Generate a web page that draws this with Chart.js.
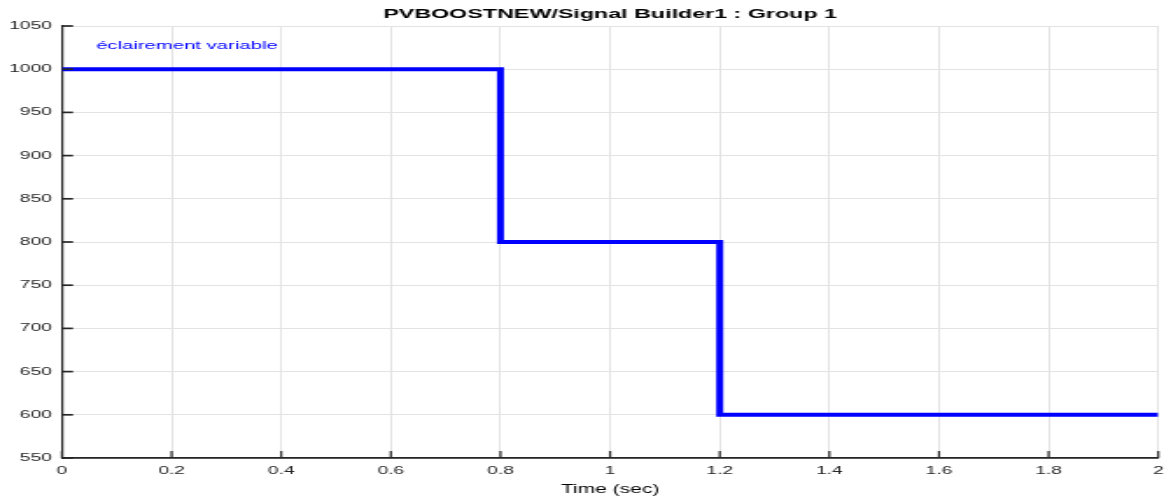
<!DOCTYPE html>
<html>
<head>
<meta charset="utf-8">
<script src="https://cdn.jsdelivr.net/npm/chart.js@4.4.1/dist/chart.umd.min.js"></script>
<style>
  html, body { margin: 0; padding: 0; background: #fff; overflow: hidden; }
  /* the plot is laid out narrow and stretched sideways */
  #wrap { width: 669px; height: 501px; transform: scaleX(1.7504); transform-origin: 0 0; }
</style>
</head>
<body>
<div id="wrap"><canvas id="myChart"></canvas></div>
<script>
const times = [0, 0.8, 1.2, 2];
const levels = [1000, 800, 600, 600];
const xTickLabels = ["0", "0.2", "0.4", "0.6", "0.8", "1", "1.2", "1.4", "1.6", "1.8", "2"];
const yTickLabels = ["550", "600", "650", "700", "750", "800", "850", "900", "950", "1000", "1050"];
const chartTitle = "PVBOOSTNEW/Signal Builder1 : Group 1";
const seriesName = "éclairement variable";

const fontFamily = "'Liberation Sans', Arial, Helvetica, sans-serif";
const axisColor = "#262626";

// short tick marks pointing into the plot, plus title and series label
const extras = {
  id: "extras",
  afterDraw(chart) {
    const c = chart.ctx;
    const area = chart.chartArea;
    const xs = chart.scales.x;
    const ys = chart.scales.y;
    c.save();
    c.strokeStyle = axisColor;
    c.lineWidth = 1.2;
    xs.ticks.forEach((t) => {
      const px = xs.getPixelForValue(t.value);
      c.beginPath();
      c.moveTo(px, area.bottom);
      c.lineTo(px, area.bottom - 7);
      c.stroke();
    });
    c.lineWidth = 1.7;
    ys.ticks.forEach((t) => {
      const py = ys.getPixelForValue(t.value);
      c.beginPath();
      c.moveTo(area.left, py);
      c.lineTo(area.left + 6.3, py);
      c.stroke();
    });

    c.fillStyle = "#000";
    c.font = "bold 13.3px " + fontFamily;
    c.textAlign = "center";
    c.textBaseline = "middle";
    c.fillText(chartTitle, (area.left + area.right) / 2, 14);

    c.fillStyle = "#0000ff";
    c.font = "11.6px " + fontFamily;
    c.textAlign = "left";
    c.fillText(seriesName, 54.9, 45.5);
    c.restore();
  },
};

new Chart(document.getElementById("myChart"), {
  type: "line",
  data: {
    datasets: [
      {
        label: seriesName,
        data: times.map((t, i) => ({ x: t, y: levels[i] })),
        stepped: "before",
        borderColor: "#0000ff",
        borderWidth: 4,
        borderJoinStyle: "miter",
        pointRadius: 0,
        fill: false,
      },
    ],
  },
  options: {
    responsive: true,
    maintainAspectRatio: false,
    animation: false,
    layout: { padding: { top: 26, right: 7.3, bottom: 0, left: 0 } },
    plugins: {
      legend: { display: false },
      tooltip: { enabled: false },
      title: { display: false },
    },
    scales: {
      x: {
        type: "linear",
        min: 0,
        max: 2,
        afterFit: (scale) => {
          scale.height = 43;
          scale.paddingLeft = 0;
          scale.paddingRight = 0;
        },
        grid: { color: "#e3e3e3", lineWidth: 1, drawTicks: false },
        border: { color: axisColor, width: 1.7 },
        ticks: {
          stepSize: 0.2,
          padding: 6,
          color: axisColor,
          font: { family: fontFamily, size: 11 },
          maxRotation: 0,
          callback: (value, index) => xTickLabels[index],
        },
        title: {
          display: true,
          text: "Time (sec)",
          color: "#000",
          font: { family: fontFamily, size: 12 },
          padding: { top: 0, bottom: 4 },
        },
      },
      y: {
        min: 550,
        max: 1050,
        afterFit: (scale) => { scale.width = 35.4; },
        grid: { color: "#e3e3e3", lineWidth: 1, drawTicks: false },
        border: { color: axisColor, width: 1.2 },
        ticks: {
          stepSize: 50,
          padding: 5.7,
          color: axisColor,
          font: { family: fontFamily, size: 11 },
          callback: (value, index) => yTickLabels[index],
        },
      },
    },
  },
  plugins: [extras],
});
</script>
</body>
</html>
